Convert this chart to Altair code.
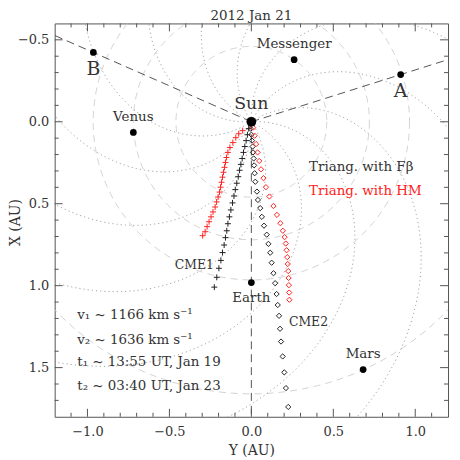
import altair as alt
import numpy as np
import pandas as pd

# ---------------- data ----------------
body_names = ["Sun", "Venus", "Messenger", "A", "B", "Earth", "Mars"]
body_Y = [0.0, -0.720, 0.261, 0.911, -0.964, 0.000, 0.682]
body_X = [0.0, 0.065, -0.379, -0.288, -0.423, 0.981, 1.512]

# CME1, triangulation with F-beta (black +)
c1f_Y = [-0.016, -0.024, -0.032, -0.040, -0.048, -0.056, -0.064, -0.072, -0.080, -0.089,
         -0.098, -0.106, -0.115, -0.125, -0.134, -0.143, -0.150, -0.158, -0.166, -0.176,
         -0.186, -0.198, -0.211, -0.226]
c1f_X = [0.042, 0.079, 0.115, 0.151, 0.187, 0.224, 0.260, 0.296, 0.335, 0.375,
         0.414, 0.453, 0.495, 0.538, 0.580, 0.622, 0.665, 0.707, 0.752, 0.798,
         0.846, 0.894, 0.949, 1.009]
# CME1, triangulation with HM (red +)
c1h_Y = [-0.053, -0.077, -0.095, -0.113, -0.131, -0.143, -0.152, -0.158, -0.164, -0.170,
         -0.176, -0.182, -0.188, -0.194, -0.203, -0.212, -0.221, -0.234, -0.246, -0.258,
         -0.270, -0.282, -0.297]
c1h_X = [0.054, 0.073, 0.097, 0.127, 0.157, 0.187, 0.218, 0.248, 0.278, 0.308,
         0.338, 0.369, 0.399, 0.429, 0.459, 0.489, 0.520, 0.550, 0.580, 0.610,
         0.640, 0.671, 0.695]
# CME2, triangulation with F-beta (black diamonds)
c2f_Y = [-0.004, 0.000, 0.004, 0.008, 0.010, 0.014, 0.017, 0.020, 0.024, 0.034,
         0.040, 0.054, 0.064, 0.077, 0.094, 0.104, 0.115, 0.124, 0.135, 0.145,
         0.154, 0.161, 0.169, 0.175, 0.181, 0.191, 0.201, 0.211, 0.225]
c2f_X = [0.042, 0.079, 0.115, 0.151, 0.187, 0.224, 0.266, 0.314, 0.366, 0.426,
         0.477, 0.527, 0.580, 0.634, 0.689, 0.745, 0.799, 0.860, 0.924, 0.985,
         1.051, 1.118, 1.184, 1.263, 1.341, 1.432, 1.529, 1.625, 1.740]
# CME2, triangulation with HM (red diamonds)
c2h_Y = [0.011, 0.020, 0.029, 0.038, 0.048, 0.059, 0.074, 0.089, 0.110, 0.135,
         0.156, 0.177, 0.192, 0.203, 0.210, 0.215, 0.219, 0.222, 0.225, 0.227,
         0.229, 0.231, 0.232]
c2h_X = [0.036, 0.085, 0.136, 0.187, 0.239, 0.290, 0.344, 0.399, 0.456, 0.514,
         0.568, 0.619, 0.665, 0.704, 0.743, 0.784, 0.826, 0.868, 0.911, 0.953,
         0.997, 1.042, 1.086]

# background geometry: Parker spirals (start angle, deg, counter-clockwise from +Y) and orbits
spiral_start_deg = [273, 303, 333, 3, 33, 63, 93, 123, 153, 183, 213, 243]
spiral_wind_deg_per_au = 54.0
orbit_radii = [0.46, 0.72, 0.965, 1.66]

x_major = [-1.0, -0.5, 0.0, 0.5, 1.0]
x_minor = [-1.1, -0.9, -0.8, -0.7, -0.6, -0.4, -0.3, -0.2, -0.1,
           0.1, 0.2, 0.3, 0.4, 0.6, 0.7, 0.8, 0.9, 1.1]
y_major = [-0.5, 0.0, 0.5, 1.0, 1.5]
y_minor = [-0.4, -0.3, -0.2, -0.1, 0.1, 0.2, 0.3, 0.4, 0.6, 0.7, 0.8, 0.9,
           1.1, 1.2, 1.3, 1.4, 1.6, 1.7]

info_lines = ["v\u2081 ~ 1166 km s\u207b\u00b9", "v\u2082 ~ 1636 km s\u207b\u00b9",
              "t\u2081 ~ 13:55 UT, Jan 19", "t\u2082 ~ 03:40 UT, Jan 23"]
info_X = [1.181, 1.329, 1.468, 1.613]
info_Y0 = -1.062

# ---------------- build tables ----------------
W = H = 396
FONT = "DejaVu Serif"
TXT = "#333333"
RED = "#ff2222"
xs = alt.Scale(domain=[-1.2, 1.2], nice=False, zero=False)
ys = alt.Scale(domain=[-0.6, 1.8], nice=False, zero=False, reverse=True)

AXX = alt.Axis(values=x_major, format=".1f", ticks=False, tickSize=0, domain=False, grid=False,
               labelFont=FONT, labelFontSize=13, labelColor=TXT, labelPadding=9,
               titleFont=FONT, titleFontSize=14, titleFontWeight="normal", titleColor=TXT,
               titlePadding=5)
AXY = alt.Axis(values=y_major, format=".1f", ticks=False, tickSize=0, domain=False, grid=False,
               labelFont=FONT, labelFontSize=13, labelColor=TXT, labelPadding=6,
               titleFont=FONT, titleFontSize=14, titleFontWeight="normal", titleColor=TXT,
               titleX=-39, titleY=200, titleBaseline="middle")


def XE(field="Y:Q"):
    return alt.X(field, scale=xs, title="Y (AU)", axis=AXX)


def YE(field="X:Q"):
    return alt.Y(field, scale=ys, title="X (AU)", axis=AXY)


rows = []
rr = np.linspace(0, 2.4, 400)
for i, t0 in enumerate(spiral_start_deg):
    th = np.radians(t0 - spiral_wind_deg_per_au * rr)
    for j, (a, b) in enumerate(zip(rr * np.cos(th), -rr * np.sin(th))):
        rows.append({"id": i, "o": j, "Y": a, "X": b})
spir = pd.DataFrame(rows)

rows = []
tt = np.linspace(0, 2 * np.pi, 361)
for i, R in enumerate(orbit_radii):
    for j, t in enumerate(tt):
        rows.append({"id": i, "o": j, "Y": R * np.cos(t), "X": R * np.sin(t)})
orb = pd.DataFrame(rows)

bodies = pd.DataFrame({"name": body_names, "Y": body_Y, "X": body_X})
bd = dict(zip(body_names, zip(body_Y, body_X)))

rows = []
for k, nm in enumerate(["A", "B"]):
    by, bx = bd[nm]
    f = 1.25 / abs(by)
    rows += [{"id": k, "o": 0, "Y": 0.0, "X": 0.0}, {"id": k, "o": 1, "Y": by * f, "X": bx * f}]
rows += [{"id": 2, "o": 0, "Y": 0.0, "X": 0.0}, {"id": 2, "o": 1, "Y": 0.0, "X": 1.85}]
rays = pd.DataFrame(rows)


def enc(extra=None):
    d = dict(x=XE(), y=YE())
    if extra:
        d.update(extra)
    return d


orbits = alt.Chart(orb).mark_line(clip=True, color="#d2d2d2", strokeDash=[7, 5], strokeWidth=1).encode(
    **enc({"detail": "id:N", "order": "o:Q"}))

spirals = alt.Chart(spir).mark_line(clip=True, color="#a0a0a0", strokeDash=[1.2, 3], strokeWidth=1).encode(
    **enc({"detail": "id:N", "order": "o:Q"}))

raylines = alt.Chart(rays).mark_line(clip=True, color="#555555", strokeDash=[8, 5], strokeWidth=1).encode(
    **enc({"detail": "id:N", "order": "o:Q"}))

PLUS = "M-1,0L1,0M0,-1L0,1"


def track(Y, X, shape, color, size):
    df = pd.DataFrame({"Y": Y, "X": X})
    return alt.Chart(df).mark_point(shape=shape, filled=False, color=color, size=size, strokeWidth=1,
                                    opacity=1).encode(**enc())


t1 = track(c1f_Y, c1f_X, PLUS, "#222222", 36)
t2 = track(c1h_Y, c1h_X, PLUS, RED, 36)
t3 = track(c2f_Y, c2f_X, "diamond", "#222222", 28)
t4 = track(c2h_Y, c2h_X, "diamond", RED, 28)

planets = alt.Chart(bodies[bodies.name != "Sun"]).mark_circle(color="black", size=46, opacity=1).encode(**enc())
sun = alt.Chart(bodies[bodies.name == "Sun"]).mark_circle(color="black", size=95, opacity=1).encode(**enc())


def labels(names, dy, size):
    df = bodies[bodies.name.isin(names)]
    return alt.Chart(df).mark_text(font=FONT, fontSize=size, color=TXT, dy=dy, baseline="middle").encode(
        **enc({"text": "name:N"}))


lab_above = labels(["Venus", "Messenger", "Mars"], -16, 13.5)
lab_earth = labels(["Earth"], 16, 13.5)
lab_ab = labels(["A", "B"], 17, 19)
lab_sun = labels(["Sun"], -18, 17.5)

cme1_lab = alt.Chart(pd.DataFrame({"Y": [-0.228], "X": [0.874], "t": ["CME1"]})).mark_text(
    font=FONT, fontSize=12.5, color=TXT, baseline="middle", align="right").encode(**enc({"text": "t:N"}))
cme2_lab = alt.Chart(pd.DataFrame({"Y": [0.229], "X": [1.221], "t": ["CME2"]})).mark_text(
    font=FONT, fontSize=12.5, color=TXT, baseline="middle", align="left").encode(**enc({"text": "t:N"}))

leg = pd.DataFrame({"Y": [0.352, 0.352], "X": [0.276, 0.420],
                    "t": ["Triang. with F\u03b2", "Triang. with HM"], "c": [TXT, RED]})
leg_txt = alt.Chart(leg).mark_text(font=FONT, fontSize=13.5, align="left", baseline="middle").encode(
    **enc({"text": "t:N", "color": alt.Color("c:N", scale=None)}))

info = pd.DataFrame({"Y": [info_Y0] * 4, "X": info_X, "t": info_lines})
info_txt = alt.Chart(info).mark_text(font=FONT, fontSize=13.5, color=TXT, align="left", baseline="middle").encode(
    **enc({"text": "t:N"}))

TICK = "#555555"


def xticks(vals, ln):
    df = pd.DataFrame({"v": vals})
    b = alt.Chart(df).mark_rule(color=TICK, strokeWidth=1)
    return [b.encode(x=XE("v:Q"), y=alt.value(H), y2=alt.value(H - ln)),
            b.encode(x=XE("v:Q"), y=alt.value(0), y2=alt.value(ln))]


def yticks(vals, ln):
    df = pd.DataFrame({"v": vals})
    b = alt.Chart(df).mark_rule(color=TICK, strokeWidth=1)
    return [b.encode(y=YE("v:Q"), x=alt.value(0), x2=alt.value(ln)),
            b.encode(y=YE("v:Q"), x=alt.value(W), x2=alt.value(W - ln))]


ticks = xticks(x_major, 8) + xticks(x_minor, 4) + yticks(y_major, 8) + yticks(y_minor, 4)

chart = alt.layer(
    orbits, spirals, raylines, t1, t2, t3, t4, planets, sun,
    lab_above, lab_earth, lab_ab, lab_sun, cme1_lab, cme2_lab, leg_txt, info_txt, *ticks
).properties(
    width=W, height=H,
    title=alt.TitleParams("2012 Jan 21", font=FONT, fontSize=13.5, fontWeight="normal", color=TXT,
                          anchor="middle", offset=0),
    autosize=alt.AutoSizeParams(type="none"),
    padding={"left": 47, "top": 14, "right": 4, "bottom": 46},
).configure_view(stroke="#555555", strokeWidth=1)

chart.save("out.html", embed_options={"renderer": "svg", "actions": False})
